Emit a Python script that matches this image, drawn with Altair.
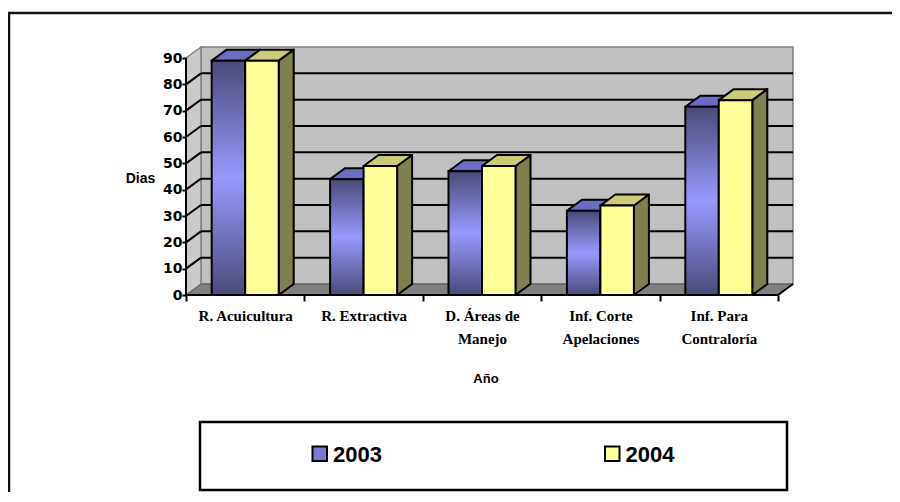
import json
import altair as alt
import pandas as pd

# ---------------- data ----------------
categories = ["R. Acuicultura", "R. Extractiva", "D. Áreas de Manejo",
              "Inf. Corte Apelaciones", "Inf. Para Contraloría"]
label_lines = [["R. Acuicultura"], ["R. Extractiva"], ["D. Áreas de", "Manejo"],
               ["Inf. Corte", "Apelaciones"], ["Inf. Para", "Contraloría"]]
series = ["2003", "2004"]
values_2003 = [89, 44, 47, 32, 71.5]
values_2004 = [89, 49, 49, 34, 74]
y_ticks = [0, 10, 20, 30, 40, 50, 60, 70, 80, 90]
y_title = "Dias"
x_title = "Año"

# ---------------- layout / style ----------------
W, H = 607, 248
DEPTH_PX, RISE_PX = 15, 11
n = len(categories)
BAND_PX = (W - DEPTH_PX) / n
Y_TOP = y_ticks[-1]
dxu = DEPTH_PX / BAND_PX
dyu = RISE_PX * Y_TOP / (H - RISE_PX)
BAR_W = 33.5 / BAND_PX

front_fill = {
    "2003": alt.LinearGradient(gradient="linear", x1=0, x2=0, y1=0, y2=1, stops=[
        alt.GradientStop(offset=0, color="#4a4a7a"),
        alt.GradientStop(offset=0.5, color="#9999ff"),
        alt.GradientStop(offset=1, color="#4a4a7a")]),
    "2004": "#ffff99",
}
top_fill = {"2003": "#6c6cc4", "2004": "#cccc77"}
side_fill = {"2003": "#4a4a7a", "2004": "#80804e"}
swatch_fill = {"2003": "#7a7ad6", "2004": "#ffff99"}

x_scale = alt.Scale(domain=[0, n + dxu], nice=False, zero=False)
y_scale = alt.Scale(domain=[0, Y_TOP + dyu], nice=False, zero=False)

label_expr = (f"datum.value < {n} ? "
              f"{json.dumps(label_lines, ensure_ascii=False)}[datum.value] : ''")

X_AXIS = alt.Axis(
    values=list(range(n + 1)), labelExpr=label_expr, labelOffset=BAND_PX / 2,
    labelFont="Liberation Serif", labelFontWeight="bold", labelFontSize=15,
    labelLineHeight=23, labelColor="black", labelBaseline="top", labelPadding=7,
    labelOverlap=False, labelFlush=False, labelBound=False,
    tickSize=6, tickWidth=2, tickColor="black", domain=False, grid=False,
    title=x_title, titleFont="Liberation Sans", titleFontWeight="bold",
    titleFontSize=13, titleColor="black", titleX=299.5, titleY=83,
    titleBaseline="middle", titleAlign="center", zindex=1)

Y_AXIS = alt.Axis(
    values=y_ticks, labelFont="DejaVu Sans", labelFontWeight="bold",
    labelFontSize=14, labelColor="black", labelPadding=0,
    tickSize=4, tickWidth=2, tickColor="black", domain=False, grid=False,
    title=y_title, titleAngle=0, titleFont="Liberation Sans",
    titleFontWeight="bold", titleFontSize=14, titleColor="black",
    titleX=-46, titleY=131.5, titleBaseline="middle", titleAlign="center",
    zindex=1)


def X(f="x"):
    return alt.X(f"{f}:Q", scale=x_scale, axis=X_AXIS)


def Y(f="y"):
    return alt.Y(f"{f}:Q", scale=y_scale, axis=Y_AXIS)


def rules(rows, color="black", width=2):
    return alt.Chart(pd.DataFrame(rows, columns=["x", "x2", "y", "y2"])).mark_rule(
        color=color, strokeWidth=width).encode(x=X(), x2="x2", y=Y(), y2="y2")


def area(rows, fill, stroke="black", width=2):
    return alt.Chart(pd.DataFrame(rows, columns=["g", "x", "y", "y2"])).mark_area(
        fill=fill, stroke=stroke, strokeWidth=width, strokeJoin="round",
        interpolate="linear", opacity=1).encode(
        x=X(), y=Y(), y2="y2", detail="g:N")


layers = []

# outer frame (only top-left part visible)
layers.append(alt.Chart(pd.DataFrame({"k": [0]})).mark_rect(
    fillOpacity=0, stroke="#111111", strokeWidth=2.5).encode(
    x=alt.value(-177), x2=alt.value(900), y=alt.value(-34), y2=alt.value(700)))

# back wall
layers.append(alt.Chart(pd.DataFrame({"x": [dxu], "x2": [n + dxu], "y": [dyu],
                                      "y2": [Y_TOP + dyu]})).mark_rect(
    fill="#c0c0c0", stroke="#808080", strokeWidth=1.5).encode(
    x=X(), x2="x2", y=Y(), y2="y2"))
# left wall
layers.append(area([(0, 0, Y_TOP, 0), (0, dxu, Y_TOP + dyu, dyu)],
                   "#cbcbcb", stroke="#808080", width=1.5))
# floor
layers.append(area([(0, 0, 0, 0), (0, dxu, dyu, 0), (0, n, dyu, 0),
                    (0, n + dxu, dyu, dyu)], "#808080", stroke="#5a5a5a", width=1))
# gridlines on back wall and left wall
layers.append(rules([(dxu, n + dxu, v + dyu, v + dyu) for v in y_ticks[1:-1]]))
layers.append(rules([(0, dxu, v, v + dyu) for v in y_ticks[1:-1]]))
# axis lines
layers.append(rules([(0, 0, 0, Y_TOP), (0, n, 0, 0), (n, n + dxu, 0, dyu)]))

# bars
for s, vals in zip(series, [values_2003, values_2004]):
    side_rows, top_rows, front_rows = [], [], []
    for i, v in enumerate(vals):
        x0 = i + 0.5 - BAR_W if s == series[0] else i + 0.5
        x1 = x0 + BAR_W
        side_rows += [(i, x1, v, 0), (i, x1 + dxu, v + dyu, dyu)]
        top_rows += [(i, x0, v, v), (i, x0 + dxu, v + dyu, v),
                     (i, x1, v + dyu, v), (i, x1 + dxu, v + dyu, v + dyu)]
        front_rows.append((x0, x1, 0, v))
    layers.append(area(side_rows, side_fill[s]))
    layers.append(area(top_rows, top_fill[s]))
    layers.append(alt.Chart(pd.DataFrame(front_rows, columns=["x", "x2", "y", "y2"]))
                  .mark_rect(fill=front_fill[s], stroke="black", strokeWidth=2)
                  .encode(x=X(), x2="x2", y=Y(), y2="y2"))

# legend box
layers.append(alt.Chart(pd.DataFrame({"k": [0]})).mark_rect(
    fill="white", stroke="black", strokeWidth=2.5).encode(
    x=alt.value(14), x2=alt.value(601), y=alt.value(375), y2=alt.value(443)))
for j, s in enumerate(series):
    sx = 126.5 + j * 292.5
    layers.append(alt.Chart(pd.DataFrame({"k": [0]})).mark_rect(
        fill=swatch_fill[s], stroke="black", strokeWidth=2).encode(
        x=alt.value(sx), x2=alt.value(sx + 14.5), y=alt.value(399.5), y2=alt.value(414)))
    layers.append(alt.Chart(pd.DataFrame({"k": [0]})).mark_text(
        align="left", baseline="alphabetic", font="Liberation Sans",
        fontWeight="bold", fontSize=22, color="black").encode(
        x=alt.value(sx + 20.5), y=alt.value(414.5), text=alt.value(s)))

chart = alt.layer(*layers).properties(
    width=W, height=H,
    autosize=alt.AutoSizeParams(type="none"),
    padding={"left": 178, "top": 39, "right": 99, "bottom": 197},
    background="white",
).configure_view(stroke=None)

chart.save("out.html", embed_options={"renderer": "svg", "actions": False})
